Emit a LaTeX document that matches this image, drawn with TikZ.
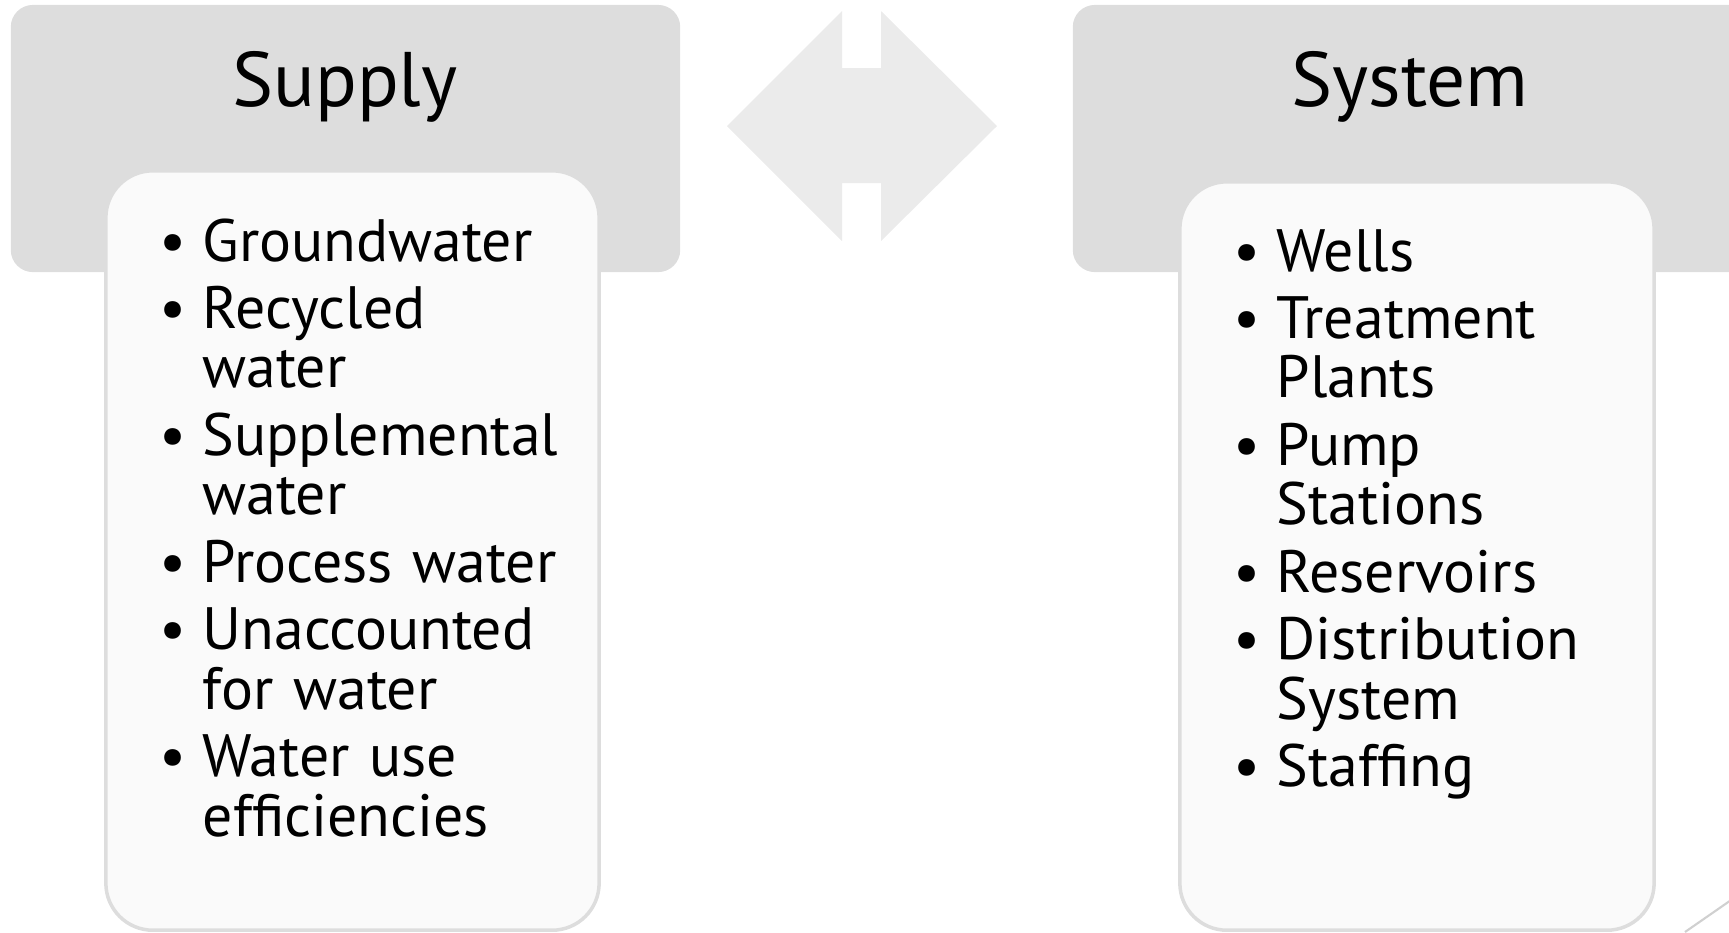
\documentclass[tikz,border=0pt]{standalone}
\usepackage{fontspec}
\setmainfont{PT Sans}
\usetikzlibrary{positioning}

\definecolor{headgray}{HTML}{DDDDDD}
\definecolor{listfill}{HTML}{FAFAFA}
\definecolor{arrowgray}{HTML}{EBEBEB}
\definecolor{linegray}{HTML}{D0D0D0}

% one bullet point, wrapped lines hang under the text
\newcommand{\bitem}[1]{\noindent\hangindent=0.43cm\hangafter=1\makebox[0.43cm][l]{\textbullet}#1\par}

\begin{document}
\begin{tikzpicture}[
		x=0.01cm, y=-0.01cm,
		header/.style={rectangle, fill=headgray, rounded corners=0.22cm, inner sep=0pt},
		card/.style={rectangle, fill=listfill, draw=headgray, line width=1pt, rounded corners=0.47cm, inner sep=0pt},
		title/.style={font=\fontsize{22}{26}\selectfont, inner sep=0pt},
		items/.style={anchor=base west, text width=4.6cm, align=left, inner sep=0pt, font={\fontsize{17}{16.9}\selectfont\parskip=2.3pt}}
		]
		\useasboundingbox (0,0) rectangle (1729,932);
		\clip (0,0) rectangle (1729,932);
		
		% 1. Header panels
		\node[header, minimum width=6.69cm, minimum height=2.67cm] (supplyhead) at (345.5,138.5) {};
		\node[header, minimum width=6.86cm, minimum height=2.67cm] (systemhead) at (1416,138.5) {};
		
		% 2. Titles
		\node[title] (supplytitle) at (345,87) {Supply};
		\node[title] (systemtitle) at (1410,87) {System};
		
		% 3. Cards with the lists
		\node[card, minimum width=4.93cm, minimum height=7.59cm] (supplycard) at (352.5,550.5) {};
		\node[card, minimum width=4.74cm, minimum height=7.48cm] (systemcard) at (1417,556) {};
		
		\node[items] (supplylist) at (159,261) {%
			\bitem{Groundwater}
			\bitem{Recycled\newline water}
			\bitem{Supplemental\newline water}
			\bitem{Process water}
			\bitem{Unaccounted\newline for water}
			\bitem{Water use\newline efficiencies}};
		
		\node[items] (systemlist) at (1233,271) {%
			\bitem{Wells}
			\bitem{Treatment\newline Plants}
			\bitem{Pump\newline Stations}
			\bitem{Reservoirs}
			\bitem{Distribution\newline System}
			\bitem{Staffing}};
		
		% 4. Double arrow between the panels
		\fill[arrowgray] (727,126) -- (842,11) -- (842,68) -- (881,68) -- (881,11) -- (997,126)
			-- (881,241) -- (881,183) -- (842,183) -- (842,241) -- cycle;
		
		% corner line
		\draw[linegray, line width=0.6pt] (1685,932) -- (1760,880);
		
	\end{tikzpicture}
\end{document}
